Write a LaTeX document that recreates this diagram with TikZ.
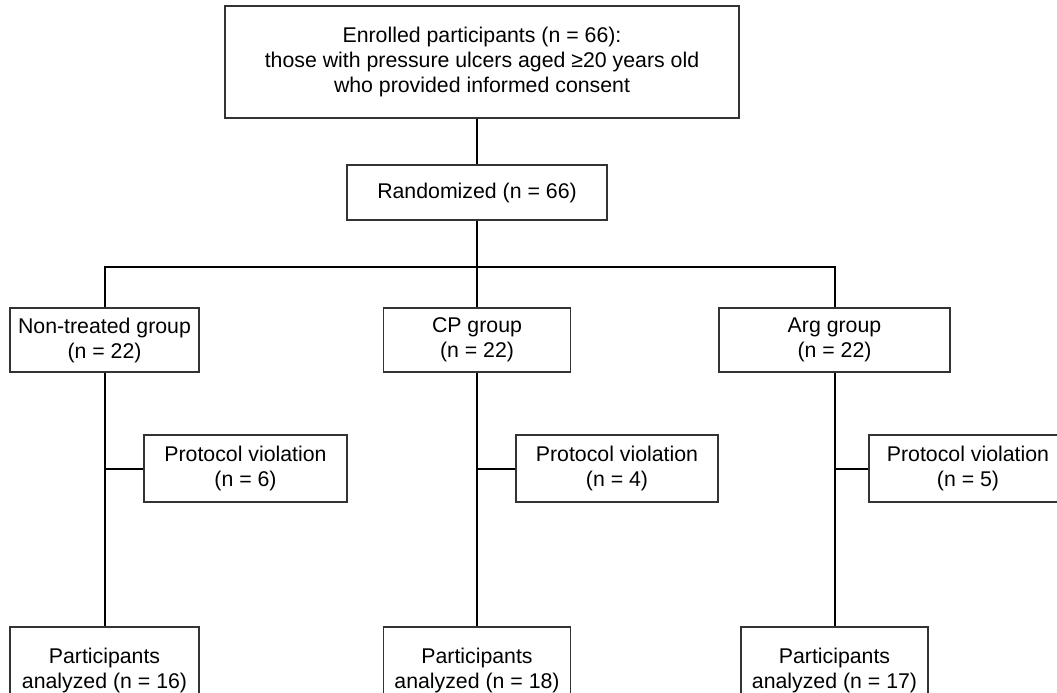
\documentclass[tikz,border=0pt]{standalone}
\usepackage{fontspec}
\setmainfont{Liberation Sans}
\begin{document}
\begin{tikzpicture}[x=1pt, y=-1pt,
  box/.style={draw=black!80, line width=1.2pt, align=center, inner sep=0pt,
              font=\fontsize{21.3}{25}\selectfont},
  link/.style={line width=2pt}
]
  \clip (0,0) rectangle (1057,693);
  % enrolment and randomization
  \node[box, minimum width=514pt, minimum height=112pt] (enrol) at (482,62)
    {Enrolled participants (n = 66):\\those with pressure ulcers aged ≥20 years old\\who provided informed consent};
  \node[box, minimum width=260pt, minimum height=55pt] (rand) at (477,192.5)
    {Randomized (n = 66)};
  \draw[link] (rand.north |- enrol.south) -- (rand.north);

  % allocation
  \node[box, minimum width=189pt, minimum height=64pt] (grp1) at (104.5,340) {Non-treated group\\(n = 22)};
  \node[box, minimum width=187pt, minimum height=64pt] (grp2) at (477,340)   {CP group\\(n = 22)};
  \node[box, minimum width=231pt, minimum height=64pt] (grp3) at (834.5,340) {Arg group\\(n = 22)};
  \coordinate (split) at (477,267);
  \draw[link] (rand) -- (grp2);
  \draw[link] (grp1.north) |- (split) -| (grp3.north);

  % protocol violations
  \node[box, minimum width=203pt, minimum height=67pt] (prot1) at (245.5,468.5) {Protocol violation\\(n = 6)};
  \node[box, minimum width=202pt, minimum height=67pt] (prot2) at (617,468.5)   {Protocol violation\\(n = 4)};
  \node[box, minimum width=198pt, minimum height=67pt] (prot3) at (968,468.5)   {Protocol violation\\(n = 5)};

  % analysis
  \node[box, minimum width=189pt, minimum height=86pt] (ana1) at (104.5,670) {Participants\\analyzed (n = 16)};
  \node[box, minimum width=187pt, minimum height=86pt] (ana2) at (477,670)   {Participants\\analyzed (n = 18)};
  \node[box, minimum width=187pt, minimum height=86pt] (ana3) at (834.5,670) {Participants\\analyzed (n = 17)};
  \draw[link] (grp1) -- (ana1);
  \draw[link] (grp2) -- (ana2);
  \draw[link] (grp3) -- (ana3);
  \draw[link] (prot1.west) -- (prot1.west -| grp1);
  \draw[link] (prot2.west) -- (prot2.west -| grp2);
  \draw[link] (prot3.west) -- (prot3.west -| grp3);
\end{tikzpicture}
\end{document}
